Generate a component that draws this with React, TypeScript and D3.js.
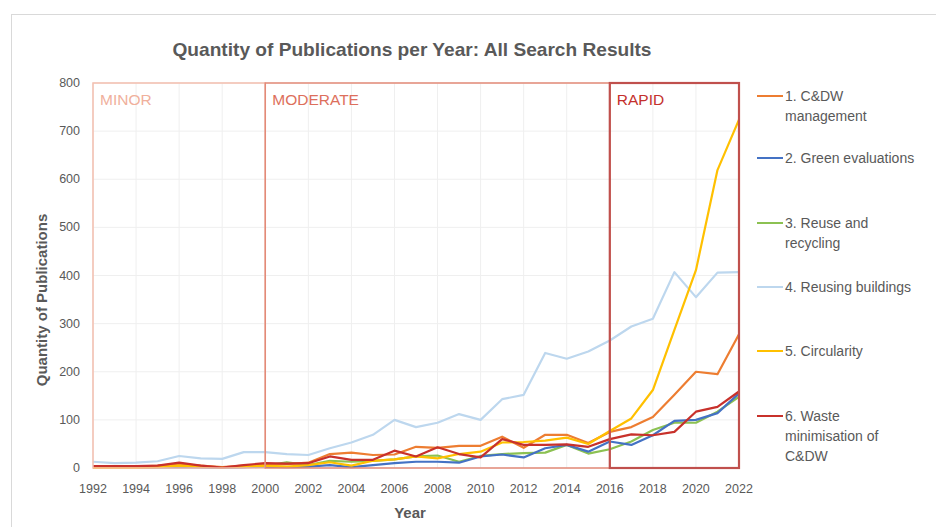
import React from "react";
import * as d3 from "d3";

const years = [1992,1993,1994,1995,1996,1997,1998,1999,2000,2001,2002,2003,2004,2005,2006,2007,2008,2009,2010,2011,2012,2013,2014,2015,2016,2017,2018,2019,2020,2021,2022];

const cdwManagement = [2,2,3,5,8,5,2,5,8,8,11,29,32,27,28,44,42,46,46,65,42,69,69,52,75,85,106,152,200,195,278];
const greenEvaluations = [0,0,0,1,2,1,0,1,3,2,3,6,2,6,10,13,13,11,24,28,22,41,48,34,55,48,68,98,100,114,155];
const reuseRecycling = [0,0,1,1,3,2,1,2,5,12,6,15,13,15,18,24,26,13,25,29,31,32,48,30,39,55,79,94,94,117,148];
const reusingBuildings = [13,10,11,14,25,20,19,33,33,29,27,41,53,69,100,85,94,112,100,143,152,239,227,242,265,294,310,407,355,406,407];
const circularity = [0,0,0,2,5,3,1,3,5,3,6,12,5,15,18,24,20,29,34,53,54,57,63,50,77,103,162,287,411,619,724];
const wasteMinimisation = [4,4,4,5,11,5,1,6,10,9,10,24,17,17,36,24,43,29,22,60,48,48,49,44,60,70,68,75,117,127,159];

const yTicks = [0,100,200,300,400,500,600,700,800];
const xTicks = [1992,1994,1996,1998,2000,2002,2004,2006,2008,2010,2012,2014,2016,2018,2020,2022];

const seriesNames = [
  ["1. C&DW", "management"],
  ["2. Green evaluations"],
  ["3. Reuse and", "recycling"],
  ["4. Reusing buildings"],
  ["5. Circularity"],
  ["6. Waste", "minimisation of", "C&DW"],
];
const seriesColors = ["#ED7D31", "#4472C4", "#8CC152", "#BDD7EE", "#FFC000", "#C8312B"];
const seriesData = [cdwManagement, greenEvaluations, reuseRecycling, reusingBuildings, circularity, wasteMinimisation];
const drawOrder = [3, 2, 1, 0, 4, 5];

const phases = [
  { label: "MINOR", start: 1992, end: 2000, stroke: "#F3BFAE", text: "#F0B09C", width: 1.5 },
  { label: "MODERATE", start: 2000, end: 2016, stroke: "#E38A78", text: "#DD6F5C", width: 1.5 },
  { label: "RAPID", start: 2016, end: 2022, stroke: "#C0504D", text: "#C4302C", width: 2.2 },
];

const legendY = [96, 158, 223, 287, 351, 416];

const FONT = "'Liberation Sans Narrow', 'Arial Narrow', 'Liberation Sans', Arial, sans-serif";

export default function App() {
  const W = 936, H = 527;
  const left = 93, right = 739, top = 83, bottom = 468;
  const x = d3.scaleLinear().domain([1992, 2022]).range([left, right]);
  const y = d3.scaleLinear().domain([0, 800]).range([bottom, top]);
  const line = d3.line<number>().x((_, i) => x(years[i])).y((d) => y(d));
  const grey = "#595959";

  return (
    <svg width={W} height={H} style={{ position: "absolute", left: 0, top: 0, background: "#fff" }} fontFamily={FONT}>
      <rect x={0} y={0} width={W} height={H} fill="#fff" />
      <rect x={11.5} y={14.5} width={940} height={530} fill="none" stroke="#D9D9D9" strokeWidth={1} />
      <text x={412} y={56} textAnchor="middle" fontSize={19} fontWeight="bold" fill={grey} textLength={479} lengthAdjust="spacingAndGlyphs">
        Quantity of Publications per Year: All Search Results
      </text>
      {/* grid */}
      {yTicks.map((t) => (
        <line key={"gy" + t} x1={left} x2={right} y1={y(t)} y2={y(t)} stroke="#EFEFEF" strokeWidth={1} />
      ))}
      {xTicks.map((t) => (
        <line key={"gx" + t} x1={x(t)} x2={x(t)} y1={top} y2={bottom} stroke="#EFEFEF" strokeWidth={1} />
      ))}
      {/* y tick labels */}
      {yTicks.map((t) => (
        <text key={"ty" + t} x={80} y={y(t) + 4} textAnchor="end" fontSize={12.5} fill={grey}>
          {t}
        </text>
      ))}
      {xTicks.map((t) => (
        <text key={"tx" + t} x={x(t)} y={493} textAnchor="middle" fontSize={12.5} fill={grey}>
          {t}
        </text>
      ))}
      <text x={0} y={0} transform={`translate(47,300) rotate(-90)`} textAnchor="middle" fontSize={15} fontWeight="bold" fill={grey}>
        Quantity of Publications
      </text>
      <text x={410} y={518} textAnchor="middle" fontSize={15} fontWeight="bold" fill={grey}>
        Year
      </text>
      {/* series */}
      {drawOrder.map((i) => (
        <path key={"s" + i} d={line(seriesData[i]) || ""} fill="none" stroke={seriesColors[i]} strokeWidth={2.2} strokeLinejoin="round" />
      ))}
      {/* phase boxes */}
      {phases.map((p) => (
        <g key={p.label}>
          <rect x={x(p.start)} y={top} width={x(p.end) - x(p.start)} height={bottom - top} fill="none" stroke={p.stroke} strokeWidth={p.width} />
          <text x={x(p.start) + 7} y={top + 22} fontSize={15.5} fill={p.text}>
            {p.label}
          </text>
        </g>
      ))}
      {/* legend */}
      {seriesNames.map((lines, i) => (
        <g key={"l" + i}>
          <line x1={757} x2={783} y1={legendY[i]} y2={legendY[i]} stroke={seriesColors[i]} strokeWidth={2} />
          {lines.map((s, j) => (
            <text key={j} x={785} y={legendY[i] + 5 + j * 20} fontSize={14} fill={grey}>
              {s}
            </text>
          ))}
        </g>
      ))}
    </svg>
  );
}
